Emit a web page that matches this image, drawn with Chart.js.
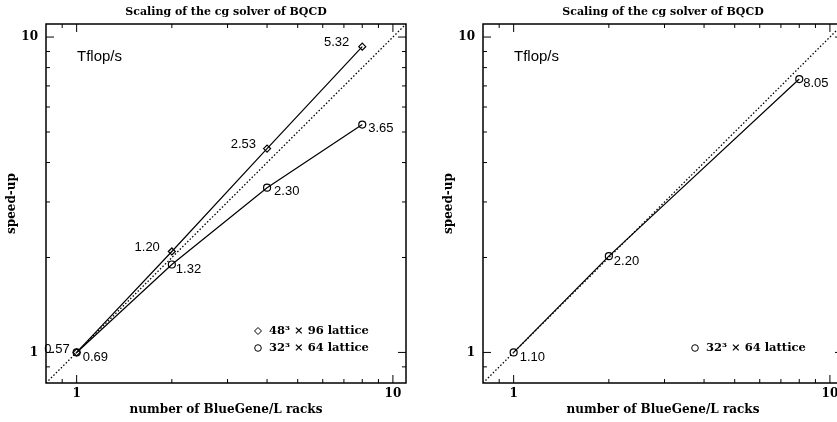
<!DOCTYPE html>
<html>
<head>
<meta charset="utf-8">
<script src="https://cdn.jsdelivr.net/npm/chart.js@4/dist/chart.umd.min.js"></script>
<style>
  html, body { margin: 0; padding: 0; background: #fff; overflow: hidden; width: 837px; height: 422px; }
  .panel { position: absolute; top: 0; width: 420px; height: 422px; }
</style>
</head>
<body>
<div class="panel" style="left:0"><canvas id="leftChart" width="420" height="422"></canvas></div>
<div class="panel" style="left:437px"><canvas id="rightChart" width="420" height="422"></canvas></div>
<script>
// data
var racks = [1, 2, 4, 8];
var speedup48 = [1, 2.09, 4.43, 9.32];
var tflops48 = ['0.57', '1.20', '2.53', '5.32'];
var speedup32 = [1, 1.90, 3.33, 5.28];
var tflops32 = ['0.69', '1.32', '2.30', '3.65'];

var racksRight = [1, 2, 8];
var speedupRight = [1, 2.02, 7.36];
var tflopsRight = ['1.10', '2.20', '8.05'];

var majorTicks = [1, 10];
var minorTicks = [0.9, 2, 3, 4, 5, 6, 7, 8, 9];
var axisMin = 0.8, axisMax = 11;

var chartTitle = 'Scaling of the cg solver of BQCD';
var xTitle = 'number of BlueGene/L racks';
var yTitle = 'speed-up';

var serifBold = '"DejaVu Serif"';
var numFont = '13px "Liberation Sans"';

function pts(xs, ys) {
  return xs.map(function (x, i) { return { x: x, y: ys[i] }; });
}

var panelPlugin = {
  id: 'panel',
  afterDatasetsDraw: function (chart, args, opts) {
    var ctx = chart.ctx, a = chart.chartArea;
    var xs = chart.scales.x, ys = chart.scales.y;
    ctx.save();
    ctx.strokeStyle = '#000';
    ctx.fillStyle = '#000';

    // frame + inward ticks on all four sides
    ctx.lineWidth = 1.5;
    ctx.strokeRect(a.left, a.top, a.right - a.left, a.bottom - a.top);
    ctx.lineWidth = 1;
    function tick(v, len) {
      var px = xs.getPixelForValue(v), py = ys.getPixelForValue(v);
      ctx.beginPath();
      if (px > a.left && px < a.right) {
        ctx.moveTo(px, a.bottom); ctx.lineTo(px, a.bottom - len);
        ctx.moveTo(px, a.top); ctx.lineTo(px, a.top + len);
      }
      if (py > a.top && py < a.bottom) {
        ctx.moveTo(a.left, py); ctx.lineTo(a.left + len, py);
        ctx.moveTo(a.right, py); ctx.lineTo(a.right - len, py);
      }
      ctx.stroke();
    }
    majorTicks.forEach(function (v) { tick(v, 8); });
    minorTicks.forEach(function (v) { tick(v, 4); });

    // title
    ctx.font = 'bold 11px ' + serifBold;
    ctx.textAlign = 'center';
    ctx.textBaseline = 'middle';
    ctx.fillText(chartTitle, (a.left + a.right) / 2, 12);

    // unit note
    ctx.font = '15px "Liberation Sans"';
    ctx.textAlign = 'left';
    ctx.fillText('Tflop/s', a.left + 31, 57);

    // value labels next to the points
    ctx.font = numFont;
    opts.labels.forEach(function (lab) {
      var meta = chart.getDatasetMeta(lab.ds);
      meta.data.forEach(function (el, i) {
        var o = lab.off[i];
        ctx.textAlign = o[2];
        ctx.fillText(lab.text[i], el.x + o[0], el.y + o[1]);
      });
    });

    // legend
    ctx.font = 'bold 11.5px ' + serifBold;
    ctx.textAlign = 'left';
    opts.legend.forEach(function (item) {
      ctx.beginPath();
      if (item.marker === 'diamond') {
        ctx.moveTo(item.x, item.y - 3.5); ctx.lineTo(item.x + 3.5, item.y);
        ctx.lineTo(item.x, item.y + 3.5); ctx.lineTo(item.x - 3.5, item.y);
        ctx.closePath();
      } else {
        ctx.arc(item.x, item.y, 3.3, 0, Math.PI * 2);
      }
      ctx.stroke();
      ctx.fillText(item.text, item.x + 11, item.y);
    });
    ctx.restore();
  }
};

function lineSet(data, style) {
  return {
    data: data,
    borderColor: '#000',
    backgroundColor: 'rgba(0,0,0,0)',
    borderWidth: 1.2,
    pointStyle: style,
    pointRadius: 3.5,
    pointBorderWidth: 1.2,
    pointBorderColor: '#000',
    pointBackgroundColor: 'rgba(0,0,0,0)',
    tension: 0
  };
}

function diagonal() {
  return {
    data: [{ x: axisMin, y: axisMin }, { x: axisMax, y: axisMax }],
    borderColor: '#000',
    borderWidth: 1.3,
    borderDash: [1.5, 2],
    pointRadius: 0
  };
}

function axis(title, isX) {
  return {
    type: 'logarithmic',
    min: axisMin,
    max: axisMax,
    afterBuildTicks: function (s) {
      s.ticks = majorTicks.map(function (v) { return { value: v }; });
    },
    afterFit: function (s) {
      if (isX) s.height = 39; else s.width = 46;
    },
    grid: { display: false, drawTicks: false },
    border: { display: false },
    ticks: {
      color: '#000',
      padding: isX ? 4 : 8,
      maxRotation: 0,
      font: { family: serifBold, weight: 'bold', size: 12 },
      callback: function (v) { return String(v); }
    },
    title: {
      display: true,
      text: title,
      color: '#000',
      font: { family: serifBold, weight: 'bold', size: 12 },
      padding: isX ? { top: 0, bottom: 5 } : { top: 5, bottom: 0 }
    }
  };
}

function makeChart(id, datasets, panelOpts) {
  return new Chart(document.getElementById(id), {
    type: 'line',
    data: { datasets: datasets },
    options: {
      responsive: false,
      animation: false,
      layout: { padding: { top: 24, right: 14, left: 0, bottom: 0 } },
      plugins: {
        legend: { display: false },
        tooltip: { enabled: false },
        panel: panelOpts
      },
      scales: { x: axis(xTitle, true), y: axis(yTitle, false) }
    },
    plugins: [panelPlugin]
  });
}

makeChart('leftChart',
  [diagonal(), lineSet(pts(racks, speedup48), 'rectRot'), lineSet(pts(racks, speedup32), 'circle')],
  {
    labels: [
      { ds: 1, text: tflops48, off: [[-7, -3, 'right'], [-12, -4, 'right'], [-11, -4, 'right'], [-13, -4, 'right']] },
      { ds: 2, text: tflops32, off: [[6, 5, 'left'], [4, 5, 'left'], [7, 4, 'left'], [6, 4, 'left']] }
    ],
    legend: [
      { marker: 'diamond', text: '48\u00b3 \u00d7 96 lattice', x: 258, y: 331 },
      { marker: 'circle', text: '32\u00b3 \u00d7 64 lattice', x: 258, y: 348 }
    ]
  });

makeChart('rightChart',
  [diagonal(), lineSet(pts(racksRight, speedupRight), 'circle')],
  {
    labels: [
      { ds: 1, text: tflopsRight, off: [[6, 5, 'left'], [5, 5, 'left'], [4, 4, 'left']] }
    ],
    legend: [
      { marker: 'circle', text: '32\u00b3 \u00d7 64 lattice', x: 258, y: 348 }
    ]
  });
</script>
</body>
</html>
